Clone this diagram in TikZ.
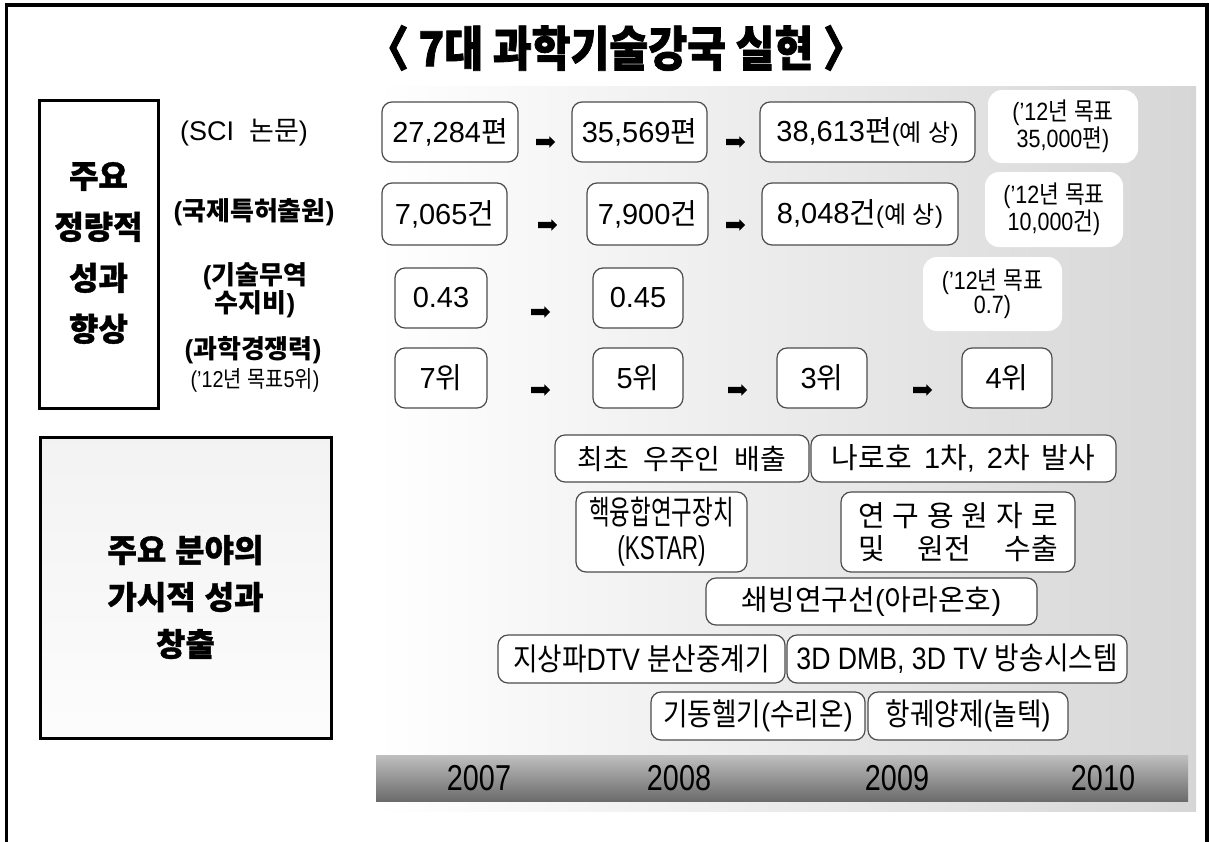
\documentclass[tikz,border=0pt]{standalone}
\usepackage{fontspec}
\usetikzlibrary{shapes.arrows}
\setmainfont{Liberation Sans}
\newfontfamily\krN{Noto Sans CJK KR}
\newfontfamily\krC{Noto Sans CJK KR}[FakeStretch=0.86]
\newfontfamily\krX{Noto Sans CJK KR}[FakeStretch=0.68]
\newfontfamily\krH{Noto Sans CJK KR}[FakeBold=1]
\newfontfamily\krT{Noto Sans CJK KR}[FakeStretch=0.88, FakeBold=1.6]
\newfontfamily\laN{Liberation Sans}
\newfontfamily\laC{Liberation Sans}[FakeStretch=0.86]
\newfontfamily\laX{Liberation Sans}[FakeStretch=0.68]
\newfontfamily\laY{Liberation Sans}[FakeStretch=0.8]
\def\curKR{\krN}
\def\curLA{\laN}
\newcommand\cond{\def\curKR{\krC}\def\curLA{\laC}\laC}
\newcommand\xcond{\def\curKR{\krX}\def\curLA{\laX}\laX}
\newcommand\heavy{\def\curKR{\krH}\def\curLA{\laN}}
\newcommand\titleface{\def\curKR{\krT}\def\curLA{\krT}\krT}
\newcommand\widesp[1]{\spaceskip=#1pt plus 3pt\relax}
\XeTeXinterchartokenstate=1
\newXeTeXintercharclass\KRclass
\makeatletter
\count@="AC00
\loop\ifnum\count@<"D7A4 \XeTeXcharclass\count@=\KRclass \advance\count@ 1 \repeat
\makeatother
\XeTeXcharclass"3008=\KRclass
\XeTeXcharclass"3009=\KRclass
\XeTeXinterchartoks 0 \KRclass = {\curKR}
\XeTeXinterchartoks 4095 \KRclass = {\curKR}
\XeTeXinterchartoks \KRclass 0 = {\curLA}
\XeTeXinterchartoks \KRclass 4095 = {\curLA}
\tikzset{
  catbox/.style={draw=black, line width=3pt, inner sep=0pt},
  cattext/.style={inner sep=0pt, align=center,
    font=\heavy\bfseries\fontsize{32}{51}\selectfont},
  lbl/.style={inner sep=0pt, align=center, font=\bfseries\fontsize{26}{25}\selectfont},
  vbox/.style={draw=black!70, line width=1.2pt, rounded corners=10pt, fill=white,
    inner sep=0pt, align=center, font=\fontsize{29}{32}\selectfont},
  goal/.style={fill=white, rounded corners=14pt, inner sep=0pt, align=center,
    font=\cond\fontsize{25}{23}\selectfont},
  evbox/.style={vbox, font=\cond\fontsize{31}{33}\selectfont},
  arr/.style={single arrow, fill=black, draw=none, inner xsep=0pt, inner ysep=3pt,
    minimum height=19pt, single arrow head extend=2.5pt},
  year/.style={inner sep=0pt, font=\laY\fontsize{36}{36}\selectfont}
}
\begin{document}
\begin{tikzpicture}[x=1pt,y=-1pt]
\useasboundingbox (0,0) rectangle (1209,841);
% outer frame
\draw[line width=3.5pt] (6.5,845) -- (6.5,5) -- (1207,5) -- (1207,845);
% background panel
\shade[left color=white, right color=black!16] (376,86) rectangle (1196,811);
% title
\node[inner sep=0pt, font=\titleface\bfseries\fontsize{48}{48}\selectfont] (title) at (616,48) {〈 7대 과학기술강국 실현 〉};
% category boxes
\node[catbox, fill=white, minimum width=119, minimum height=308] (cat1) at (98.5,254) {};
\node[cattext] (cat1t) at (98.5,253) {주요\\정량적\\성과\\향상};
\node[catbox, top color=black!5, bottom color=black!1, minimum width=291, minimum height=301] (cat2) at (185.5,587.5) {};
\node[cattext, font=\heavy\bfseries\fontsize{32}{47}\selectfont] (cat2t) at (185.5,597) {주요 분야의\\가시적 성과\\창출};
% row labels
\node[inner sep=0pt, font=\fontsize{27}{27}\selectfont] (l1) at (244,133) {(SCI\ \ 논문)};
\node[lbl] (l2) at (254,212) {(국제특허출원)};
\node[lbl] (l3) at (255,290) {(기술무역\\수지비)};
\node[lbl] (l4) at (253,350) {(과학경쟁력)};
\node[inner sep=0pt, font=\cond\fontsize{23}{23}\selectfont] (l5) at (255,380) {(’12년 목표5위)};
% row 1
\node[vbox, minimum width=136, minimum height=60] (a1) at (450,132) {27,284편};
\node[vbox, minimum width=135, minimum height=60] (a2) at (639.5,132) {35,569편};
\node[vbox, minimum width=215, minimum height=60] (a3) at (867.5,132) {38,613편{\fontsize{24}{24}\selectfont(예 상)}};
\node[goal, minimum width=150, minimum height=73] (t1) at (1063,126.5) {(’12년 목표\\35,000편)};
% row 2
\node[vbox, minimum width=125, minimum height=62] (b1) at (444.5,214) {7,065건};
\node[vbox, minimum width=121, minimum height=62] (b2) at (647.5,214) {7,900건};
\node[vbox, minimum width=196, minimum height=62] (b3) at (860,214) {8,048건{\fontsize{24}{24}\selectfont(예 상)}};
\node[goal, minimum width=138, minimum height=75] (t2) at (1054,209.5) {(’12년 목표\\10,000건)};
% row 3
\node[vbox, minimum width=92, minimum height=60] (c1) at (441,298) {0.43};
\node[vbox, minimum width=90, minimum height=60] (c2) at (638,298) {0.45};
\node[goal, minimum width=139, minimum height=74] (t3) at (992.5,294) {(’12년 목표\\0.7)};
% row 4
\node[vbox, minimum width=92, minimum height=60] (d1) at (441,378) {7위};
\node[vbox, minimum width=90, minimum height=60] (d2) at (638,378) {5위};
\node[vbox, minimum width=90, minimum height=60] (d3) at (822,378) {3위};
\node[vbox, minimum width=90, minimum height=60] (d4) at (1007,378) {4위};
% arrows
\node[arr] (p1) at (544,142) {};
\node[arr] (p2) at (734,142) {};
\node[arr] (p3) at (546,225) {};
\node[arr] (p4) at (734,225) {};
\node[arr] (p5) at (539,312) {};
\node[arr] (p6) at (539,390) {};
\node[arr] (p7) at (736,390) {};
\node[arr] (p8) at (921,390) {};
% achievements
\node[evbox, font=\fontsize{28}{33}\selectfont\widesp{14}, minimum width=254, minimum height=47] (e1) at (682,458.5) {최초 우주인 배출};
\node[evbox, font=\fontsize{29}{33}\selectfont\widesp{12}, minimum width=305, minimum height=47] (e2) at (963.5,458.5) {나로호 1차, 2차 발사};
\node[evbox, font=\xcond\fontsize{33}{35}\selectfont, minimum width=171, minimum height=80] (e3) at (661.5,532) {핵융합연구장치\\(KSTAR)};
\node[evbox, font=\fontsize{29}{33}\selectfont, minimum width=234, minimum height=80] (e4) at (958,532) {\makebox[200pt][s]{연\hfil 구\hfil 용\hfil 원\hfil 자\hfil 로}\\\makebox[200pt][s]{및 원전 수출}};
\node[evbox, font=\fontsize{29}{33}\selectfont, minimum width=331, minimum height=47] (e5) at (871.5,601.5) {쇄빙연구선(아라온호)};
\node[evbox, minimum width=287, minimum height=48] (e6) at (641.5,659) {지상파DTV 분산중계기};
\node[evbox, minimum width=340, minimum height=48] (e7) at (957,659) {3D DMB, 3D TV 방송시스템};
\node[evbox, minimum width=214, minimum height=48] (e8) at (758,716) {기동헬기(수리온)};
\node[evbox, minimum width=200, minimum height=48] (e9) at (968,716) {항궤양제(놀텍)};
% year bar
\shade[top color=black!25, bottom color=black!58] (376,755) rectangle (1188,801);
\node[year] (y7) at (479,778) {2007};
\node[year] (y8) at (679,778) {2008};
\node[year] (y9) at (897,778) {2009};
\node[year] (y10) at (1103,778) {2010};
\end{tikzpicture}
\end{document}
